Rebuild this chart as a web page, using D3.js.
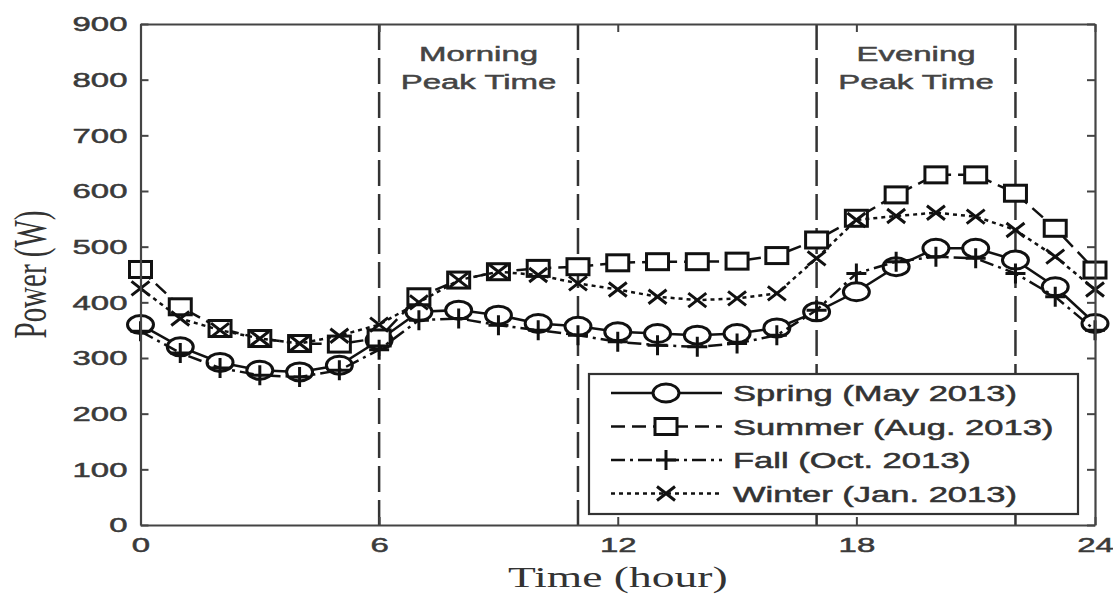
<!DOCTYPE html>
<html>
<head>
<meta charset="utf-8">
<script src="https://cdn.jsdelivr.net/npm/d3@7/dist/d3.min.js"></script>
<style>
  body { margin: 0; background: #fff; }
</style>
</head>
<body>
<svg id="chart" width="1113" height="594"></svg>
<script>
// data
const hours = [0, 1, 2, 3, 4, 5, 6, 7, 8, 9, 10, 11, 12, 13, 14, 15, 16, 17, 18, 19, 20, 21, 22, 23, 24];
const spring = [360, 320, 292, 278, 275, 287, 332, 383, 386, 377, 362, 357, 347, 344, 341, 344, 354, 383, 419, 464, 497, 497, 476, 428, 362];
const summer = [459, 392, 353, 335, 326, 325, 336, 410, 440, 455, 461, 464, 471, 473, 473, 474, 484, 512, 551, 593, 629, 629, 596, 533, 458];
const fall = [348, 309, 282, 269, 266, 278, 315, 368, 371, 359, 350, 341, 329, 323, 320, 326, 341, 386, 452, 473, 482, 479, 452, 410, 350];
const winter = [425, 371, 350, 335, 326, 340, 360, 400, 440, 455, 449, 434, 423, 410, 404, 407, 416, 479, 548, 555, 561, 554, 530, 482, 423];
const seriesNames = ["Spring (May 2013)", "Summer (Aug. 2013)", "Fall (Oct. 2013)", "Winter (Jan. 2013)"];
const xTicks = [0, 6, 12, 18, 24];
const yTicks = [0, 100, 200, 300, 400, 500, 600, 700, 800, 900];
const peakBounds = [6, 11, 17, 22];
const peakLabels = [["Morning", "Peak Time"], ["Evening", "Peak Time"]];

const series = [
  { name: seriesNames[0], values: spring, dash: null, marker: "circle" },
  { name: seriesNames[1], values: summer, dash: "14,7", marker: "square" },
  { name: seriesNames[2], values: fall, dash: "14,5,3,5", marker: "plus" },
  { name: seriesNames[3], values: winter, dash: "4,4", marker: "cross" },
];

// the source picture is stretched sideways, text is widened to match
const SX = 1.57;
const sans = "'Liberation Sans', Arial, sans-serif";
const serif = "'Liberation Serif', 'Times New Roman', serif";
const ink = "#111";

const margin = { top: 24, right: 18, bottom: 69, left: 140.5 };
const width = 1113 - margin.left - margin.right;
const height = 594 - margin.top - margin.bottom;

const x = d3.scaleLinear().domain([0, 24]).range([0, width]);
const y = d3.scaleLinear().domain([0, 900]).range([height, 0]);

const svg = d3.select("#chart");
const g = svg.append("g").attr("transform", `translate(${margin.left},${margin.top})`);

// vertical peak boundaries
g.selectAll(".peak-line")
  .data(peakBounds)
  .enter()
  .append("line")
  .attr("class", "peak-line")
  .attr("x1", (d) => x(d))
  .attr("x2", (d) => x(d))
  .attr("y1", 0)
  .attr("y2", height)
  .attr("stroke", "#333")
  .attr("stroke-width", 2.5)
  .attr("stroke-dasharray", "26,8");

// peak labels
peakLabels.forEach((lines, i) => {
  const cx = x((peakBounds[i * 2] + peakBounds[i * 2 + 1]) / 2);
  lines.forEach((t, j) => {
    g.append("text")
      .attr("transform", `translate(${cx},${37 + j * 28}) scale(${SX},1)`)
      .attr("text-anchor", "middle")
      .attr("font-family", sans)
      .attr("font-size", 21)
      .attr("fill", "#444")
      .attr("stroke", "#444")
      .attr("stroke-width", 0.5)
      .text(t);
  });
});

function drawMarker(sel, type) {
  if (type === "circle") {
    sel.append("ellipse").attr("rx", 13).attr("ry", 9)
      .attr("fill", "#fff").attr("stroke", ink).attr("stroke-width", 3);
  } else if (type === "square") {
    sel.append("rect").attr("x", -11).attr("y", -8).attr("width", 22).attr("height", 16)
      .attr("fill", "#fff").attr("stroke", ink).attr("stroke-width", 3);
  } else if (type === "plus") {
    sel.append("path").attr("d", "M-10,0H10M0,-10V10")
      .attr("fill", "none").attr("stroke", ink).attr("stroke-width", 3);
  } else {
    sel.append("path").attr("d", "M-9,-7L9,7M-9,7L9,-7")
      .attr("fill", "none").attr("stroke", ink).attr("stroke-width", 3);
  }
}

const line = d3.line()
  .x((d, i) => x(hours[i]))
  .y((d) => y(d));

series.forEach((s) => {
  const sg = g.append("g").attr("class", "series");
  sg.append("path")
    .datum(s.values)
    .attr("d", line)
    .attr("fill", "none")
    .attr("stroke", ink)
    .attr("stroke-width", 2.5)
    .attr("stroke-dasharray", s.dash);
  sg.selectAll(".mark")
    .data(s.values)
    .enter()
    .append("g")
    .attr("class", "mark")
    .attr("transform", (d, i) => `translate(${x(hours[i])},${y(d)})`)
    .each(function () {
      drawMarker(d3.select(this), s.marker);
    });
});

// axes, ticks pointing inward on all four sides
function styleAxis(ax) {
  ax.select(".domain").attr("stroke", "#444").attr("stroke-width", 2.2);
  ax.selectAll(".tick line").attr("stroke", "#444").attr("stroke-width", 2);
  ax.selectAll(".tick text")
    .attr("font-family", sans)
    .attr("font-size", 21)
    .attr("fill", "#3a3a3a")
    .attr("stroke", "#3a3a3a")
    .attr("stroke-width", 0.5);
}

const xAxis = g.append("g")
  .attr("transform", `translate(0,${height})`)
  .call(d3.axisBottom(x).tickValues(xTicks).tickSizeInner(-8).tickSizeOuter(0).tickPadding(12))
  .call(styleAxis);
xAxis.selectAll(".tick text").attr("transform", `scale(${SX},1)`);

const yAxis = g.append("g")
  .call(d3.axisLeft(y).tickValues(yTicks).tickSizeInner(-8).tickSizeOuter(0).tickPadding(13))
  .call(styleAxis);
yAxis.selectAll(".tick text").attr("x", -13 / SX).attr("transform", `scale(${SX},1)`);

g.append("g")
  .call(d3.axisTop(x).tickValues(xTicks).tickSizeInner(-8).tickSizeOuter(0).tickFormat(() => ""))
  .call(styleAxis);

g.append("g")
  .attr("transform", `translate(${width},0)`)
  .call(d3.axisRight(y).tickValues(yTicks).tickSizeInner(-8).tickSizeOuter(0).tickFormat(() => ""))
  .call(styleAxis);

// axis titles
g.append("text")
  .attr("transform", `translate(${x(12)},${height + 62}) scale(${SX},1)`)
  .attr("text-anchor", "middle")
  .attr("font-family", serif)
  .attr("font-size", 29)
  .attr("fill", "#333")
  .text("Time (hour)");

g.append("text")
  .attr("transform", `translate(${46 - margin.left},${height / 2}) scale(${SX},1) rotate(-90)`)
  .attr("text-anchor", "middle")
  .attr("font-family", serif)
  .attr("font-size", 29)
  .attr("fill", "#333")
  .text("Power (W)");

// legend
const legend = g.append("g").attr("transform", "translate(448.5,350)");
legend.append("rect")
  .attr("width", 489)
  .attr("height", 140)
  .attr("fill", "#fff")
  .attr("stroke", "#333")
  .attr("stroke-width", 2.2);

const rows = legend.selectAll(".row")
  .data(series)
  .enter()
  .append("g")
  .attr("class", "row")
  .attr("transform", (d, i) => `translate(0,${19 + i * 33.5})`);

rows.append("line")
  .attr("x1", 22)
  .attr("x2", 133)
  .attr("stroke", ink)
  .attr("stroke-width", 2.5)
  .attr("stroke-dasharray", (d) => d.dash);

rows.append("g")
  .attr("transform", "translate(77,0)")
  .each(function (d) {
    drawMarker(d3.select(this), d.marker);
  });

rows.append("text")
  .attr("transform", `translate(144,8) scale(${SX},1)`)
  .attr("font-family", sans)
  .attr("font-size", 22)
  .attr("fill", "#333")
  .attr("stroke", "#333")
  .attr("stroke-width", 0.5)
  .text((d) => d.name);
</script>
</body>
</html>
